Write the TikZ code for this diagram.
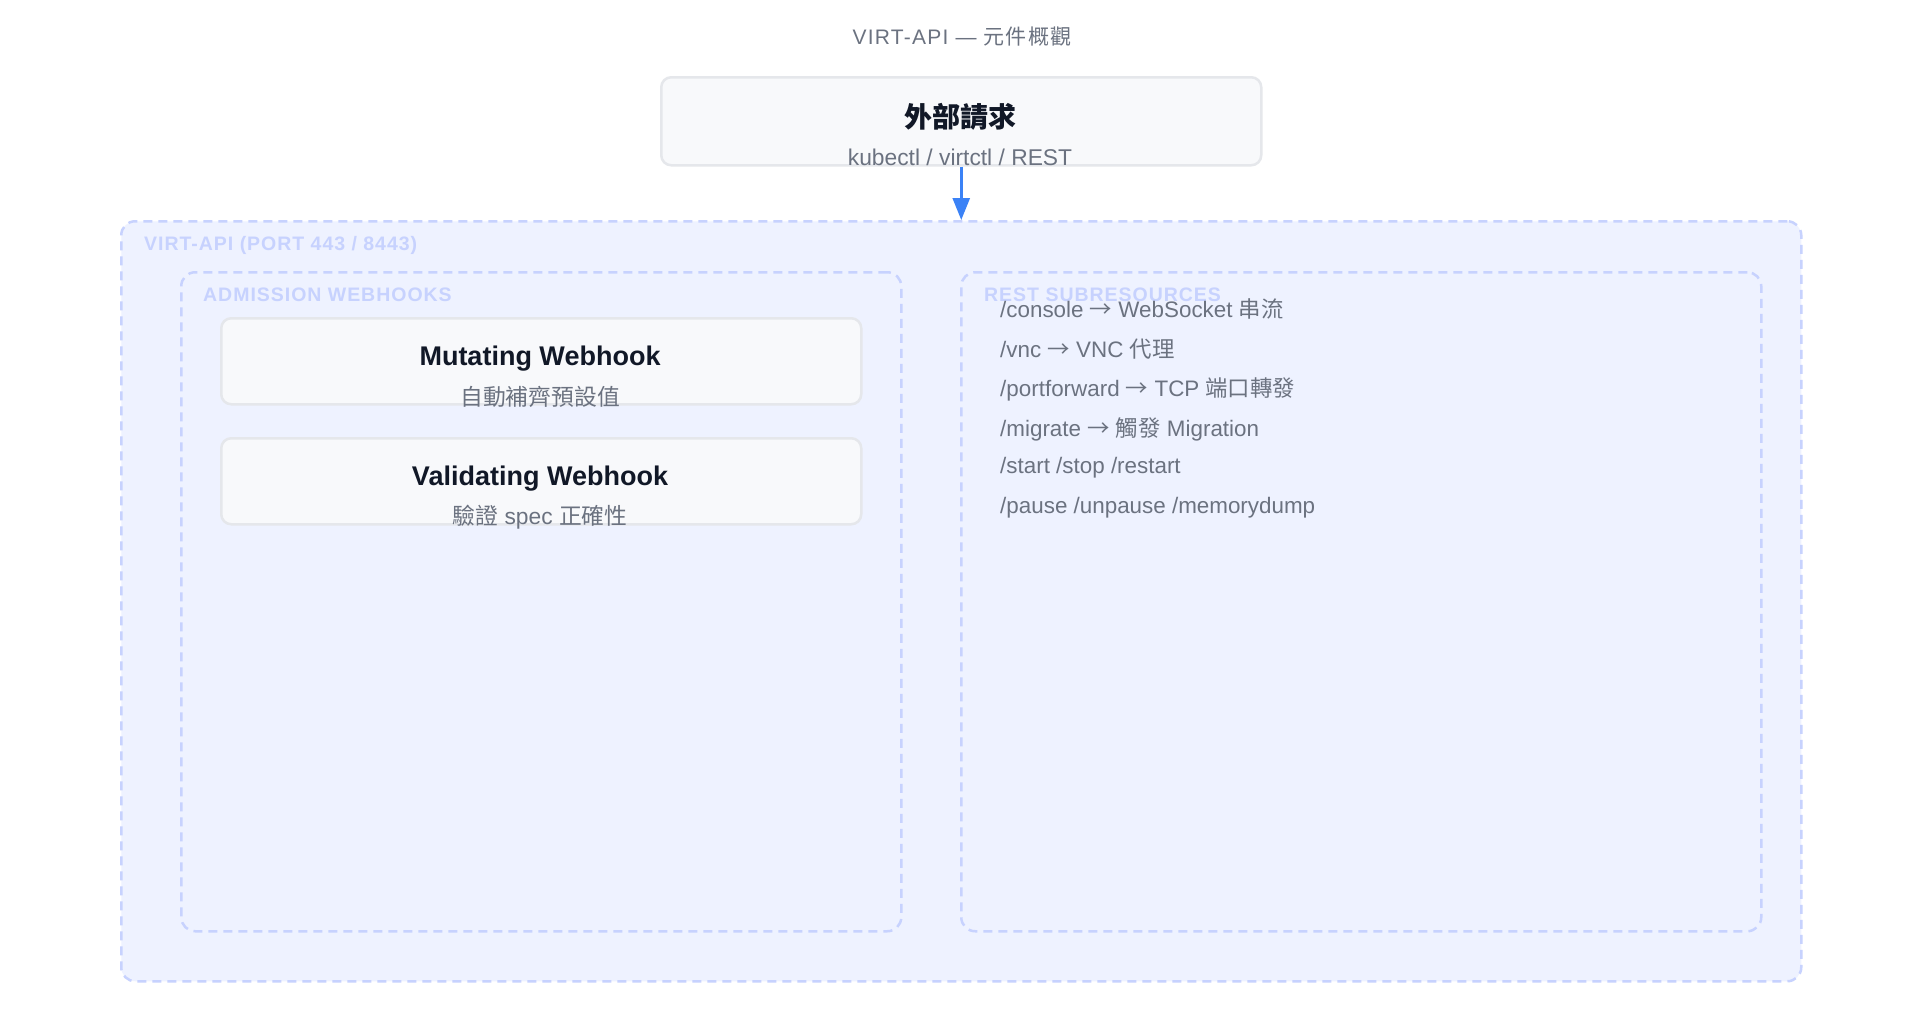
\documentclass[tikz,border=0pt]{standalone}
\usepackage{fontspec}
\setmainfont{Liberation Sans}
\newfontfamily\cjk{Noto Sans CJK TC}
\newfontfamily\lblfont[LetterSpace=5.0]{Liberation Sans}
\newfontfamily\ttlfont[LetterSpace=6.0]{Liberation Sans}
\newfontfamily\ttlcjk[LetterSpace=6.0]{Noto Sans CJK TC}
\usetikzlibrary{arrows.meta}
\definecolor{txtgray}{HTML}{6B7280}
\definecolor{txtdark}{HTML}{111827}
\definecolor{boxfill}{HTML}{F8F9FB}
\definecolor{boxline}{HTML}{E5E7EB}
\definecolor{grpfill}{HTML}{EEF2FF}
\definecolor{grpline}{HTML}{C7D2FE}
\definecolor{arrowblue}{HTML}{3B82F6}
\newcommand{\fsz}[1]{\fontsize{#1}{#1}\selectfont}
\begin{document}
\begin{tikzpicture}[x=1pt,y=-1pt,
  cardbox/.style={draw=boxline, fill=boxfill, line width=2.5pt, rounded corners=10pt, anchor=north west, inner sep=0pt},
  grpbox/.style={draw=grpline, fill=grpfill, line width=2.5pt, dash pattern=on 9pt off 6pt, rounded corners=14pt, anchor=north west, inner sep=0pt},
  grplabel/.style={text=grpline, anchor=west, inner sep=0pt, font=\lblfont\fsz{19.5}\bfseries},
  cardtitle/.style={text=txtdark, inner sep=0pt, font=\fsz{27}\bfseries},
  cardsub/.style={text=txtgray, inner sep=0pt, font=\fsz{22.8}},
  listitem/.style={text=txtgray, anchor=west, inner sep=0pt, font=\fsz{22.4}},
  conn/.style={draw=arrowblue, line width=2.7pt, -{Triangle[length=22pt,width=17pt]}}
]
\useasboundingbox[fill=white] (0,0) rectangle (1920,1020);

% title
\node[text=txtgray, inner sep=0pt, font=\ttlfont\fsz{21}] (title) at (962,37) {VIRT-API — {\ttlcjk 元件概觀}};

% external request
\node[cardbox, minimum width=600pt, minimum height=88pt] (ext) at (660,76) {};
\node[text=txtdark, inner sep=0pt, font=\fsz{28}\bfseries] (exttitle) at (960,117) {\cjk 外部請求};
\node[cardsub] (extsub) at (960,157) {kubectl / virtctl / REST};

% outer group
\node[grpbox, minimum width=1680pt, minimum height=760pt] (outer) at (120,220) {};
\node[grplabel] (outerlbl) at (144,245) {VIRT-API (PORT 443 / 8443)};

% left group
\node[grpbox, minimum width=720pt, minimum height=659pt] (adm) at (180,271) {};
\node[grplabel] (admlbl) at (203,295) {ADMISSION WEBHOOKS};

% right group
\node[grpbox, minimum width=800pt, minimum height=659pt] (rest) at (960,271) {};
\node[grplabel] (restlbl) at (984,295) {REST SUBRESOURCES};

% webhooks
\node[cardbox, minimum width=640pt, minimum height=86pt] (mut) at (220,317) {};
\node[cardtitle] (muttitle) at (540,359) {Mutating Webhook};
\node[cardsub] (mutsub) at (540,397) {\cjk 自動補齊預設值};

\node[cardbox, minimum width=640pt, minimum height=86pt] (val) at (220,437) {};
\node[cardtitle] (valtitle) at (540,479) {Validating Webhook};
\node[cardsub] (valsub) at (540,517) {{\cjk 驗證} spec {\cjk 正確性}};

% rest list
\node[listitem] (l1) at (1000,309) {/console {\cjk →} WebSocket {\cjk 串流}};
\node[listitem] (l2) at (1000,349) {/vnc {\cjk →} VNC {\cjk 代理}};
\node[listitem] (l3) at (1000,389) {/portforward {\cjk →} TCP {\cjk 端口轉發}};
\node[listitem] (l4) at (1000,429) {/migrate {\cjk →} {\cjk 觸發} Migration};
\node[listitem] (l5) at (1000,468) {/start /stop /restart};
\node[listitem] (l6) at (1000,508) {/pause /unpause /memorydump};

% connector
\draw[conn] (ext.south) -- (outer.north);
\end{tikzpicture}
\end{document}
